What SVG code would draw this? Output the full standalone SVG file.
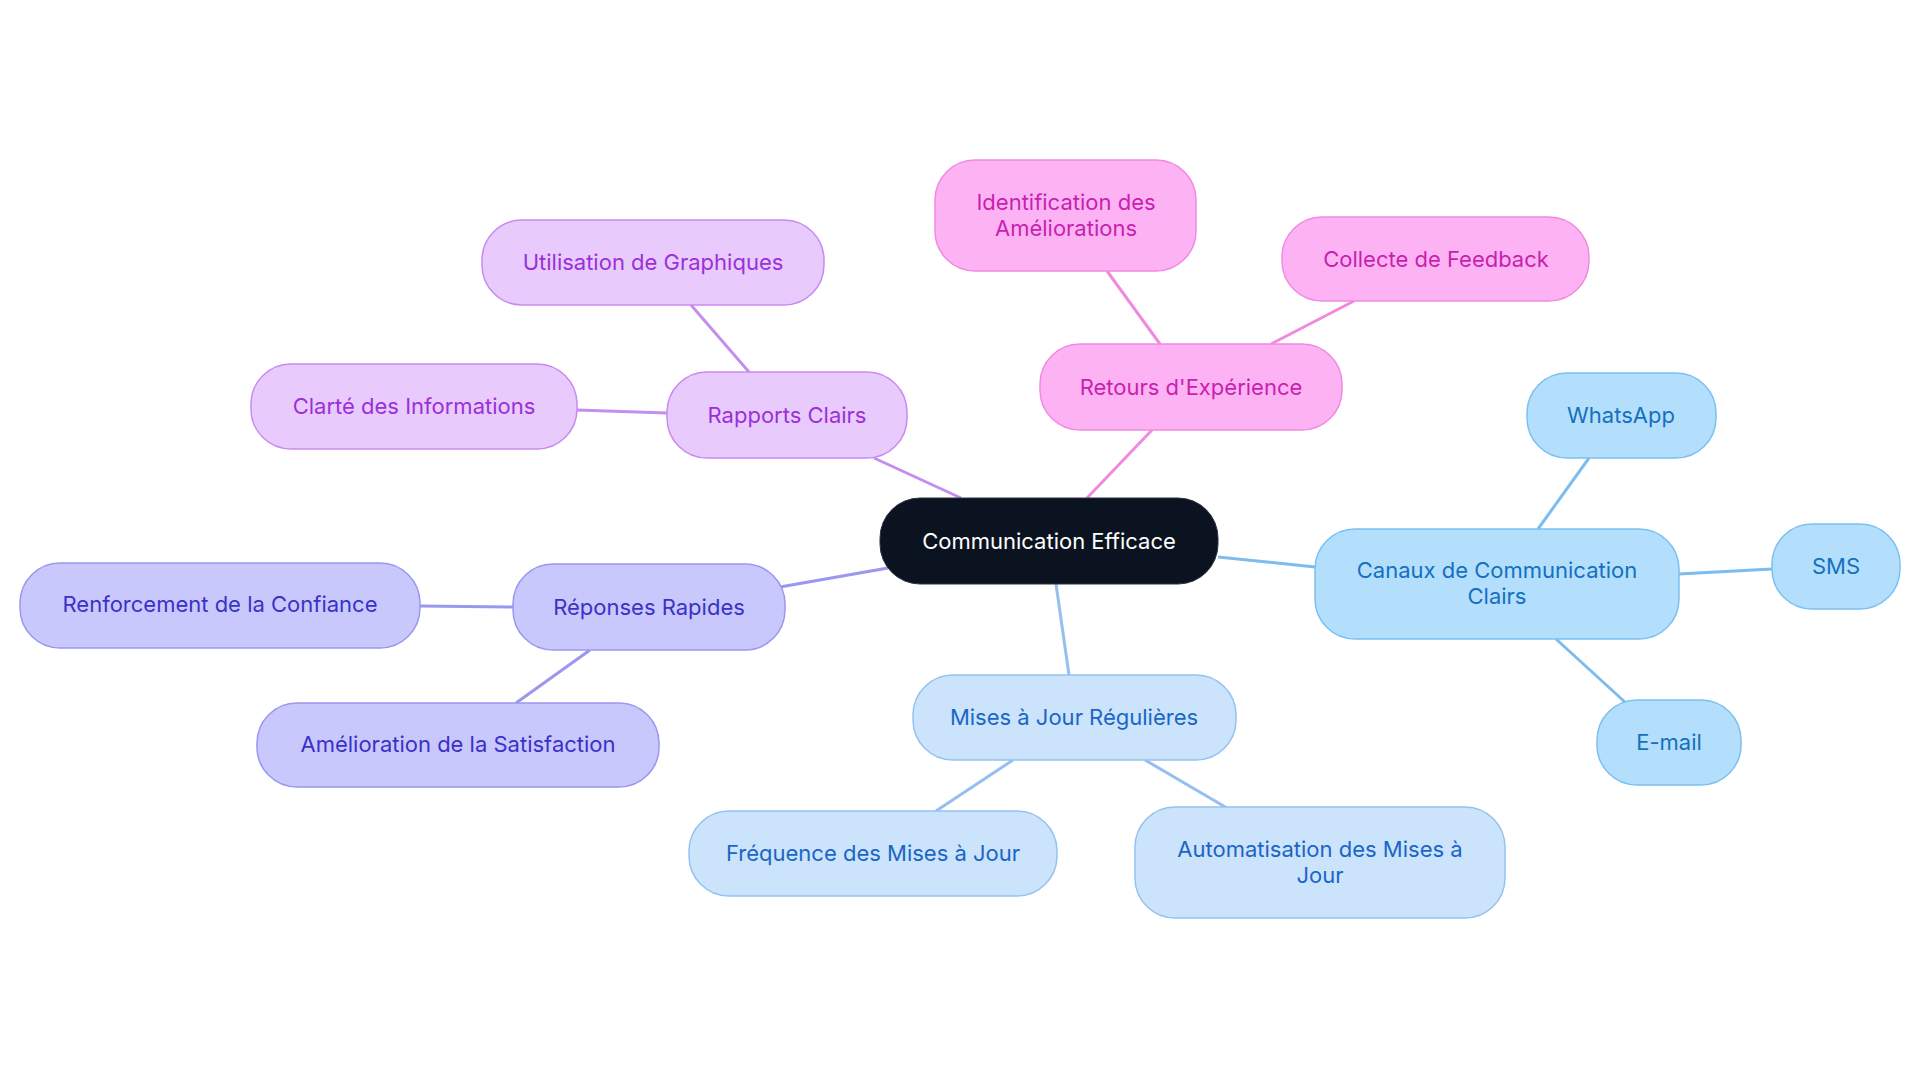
<svg xmlns="http://www.w3.org/2000/svg" width="1920" height="1083" viewBox="0 0 1920 1083">
<style>
text{font-family:Inter,"Noto Sans",sans-serif;font-size:22px;text-anchor:middle;dominant-baseline:central}
.e{fill:none;stroke-width:3}
.p rect{fill:#e8cafc;stroke:#c98af0;stroke-width:1.5}.p text{fill:#9b30d9}
.k rect{fill:#fdb3f3;stroke:#f08ae0;stroke-width:1.5}.k text{fill:#c81fb0}
.b rect{fill:#b3dffc;stroke:#7cc0f0;stroke-width:1.5}.b text{fill:#1570c0}
.m rect{fill:#cce3fc;stroke:#94c2f0;stroke-width:1.5}.m text{fill:#1a66c6}
.r rect{fill:#c9c8fc;stroke:#9a97ee;stroke-width:1.5}.r text{fill:#3a31c8}
</style>
<rect width="1920" height="1083" fill="#fff"/>
<g id="connectors">
<g stroke="#c48ef0" class="e"><path class="e" d="M961 498L874 458M749 372L691 305M667 413L577 410"/></g>
<g stroke="#f08ae0"><path class="e" d="M1087 498L1152 430M1160 344L1107 271M1271 344L1354 301"/></g>
<g stroke="#7cbcef"><path class="e" d="M1218 557L1315 567M1538 529L1589 458M1679 574L1772 569M1556 639L1626 703"/></g>
<g stroke="#94bfef"><path class="e" d="M1056 584L1069 675M1013 760L936 811M1145 760L1227 808"/></g>
<g stroke="#9a97ee"><path class="e" d="M888 568L780 587M513 607L420 606M590 650L516 703"/></g>
</g>
<g id="center"><rect x="880" y="498" width="338" height="86" rx="40" fill="#0b1320" stroke="#2a3340"/><text x="1049" y="541" fill="#fff">Communication Efficace</text></g>
<g id="rapports" class="p"><rect x="667" y="372" width="240" height="86" rx="40"/><text x="787" y="415">Rapports Clairs</text></g>
<g id="graphiques" class="p"><rect x="482" y="220" width="342" height="85" rx="40"/><text x="653" y="262">Utilisation de Graphiques</text></g>
<g id="clarte" class="p"><rect x="251" y="364" width="326" height="85" rx="40"/><text x="414" y="406">Clarté des Informations</text></g>
<g id="retours" class="k"><rect x="1040" y="344" width="302" height="86" rx="40"/><text x="1191" y="387">Retours d'Expérience</text></g>
<g id="identification" class="k"><rect x="935" y="160" width="261" height="111" rx="40"/><text x="1066" y="202">Identification des</text><text x="1066" y="228">Améliorations</text></g>
<g id="collecte" class="k"><rect x="1282" y="217" width="307" height="84" rx="40"/><text x="1436" y="259">Collecte de Feedback</text></g>
<g id="canaux" class="b"><rect x="1315" y="529" width="364" height="110" rx="40"/><text x="1497" y="570">Canaux de Communication</text><text x="1497" y="596">Clairs</text></g>
<g id="whatsapp" class="b"><rect x="1527" y="373" width="189" height="85" rx="40"/><text x="1621" y="415">WhatsApp</text></g>
<g id="sms" class="b"><rect x="1772" y="524" width="128" height="85" rx="40"/><text x="1836" y="566">SMS</text></g>
<g id="email" class="b"><rect x="1597" y="700" width="144" height="85" rx="40"/><text x="1669" y="742">E-mail</text></g>
<g id="mises" class="m"><rect x="913" y="675" width="323" height="85" rx="40"/><text x="1074" y="717">Mises à Jour Régulières</text></g>
<g id="frequence" class="m"><rect x="689" y="811" width="368" height="85" rx="40"/><text x="873" y="853">Fréquence des Mises à Jour</text></g>
<g id="automatisation" class="m"><rect x="1135" y="807" width="370" height="111" rx="40"/><text x="1320" y="849">Automatisation des Mises à</text><text x="1320" y="875">Jour</text></g>
<g id="reponses" class="r"><rect x="513" y="564" width="272" height="86" rx="40"/><text x="649" y="607">Réponses Rapides</text></g>
<g id="renforcement" class="r"><rect x="20" y="563" width="400" height="85" rx="40"/><text x="220" y="604">Renforcement de la Confiance</text></g>
<g id="amelioration" class="r"><rect x="257" y="703" width="402" height="84" rx="40"/><text x="458" y="744">Amélioration de la Satisfaction</text></g>
</svg>
